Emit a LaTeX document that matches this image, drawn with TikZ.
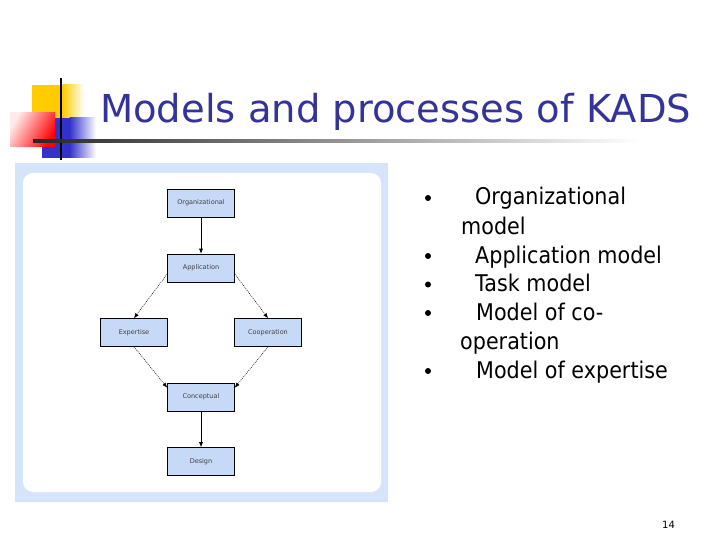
\documentclass[tikz,border=0pt]{standalone}
\usepackage{fontspec}
\setmainfont{DejaVu Sans}
\newfontfamily\titlefont[FakeStretch=0.9]{DejaVu Sans}
\usetikzlibrary{arrows.meta}
\definecolor{titleblue}{RGB}{51,51,153}
\definecolor{panelblue}{RGB}{214,228,250}
\definecolor{boxblue}{RGB}{198,217,247}
\definecolor{logoyellow}{RGB}{255,204,0}
\definecolor{logoblue}{RGB}{51,51,204}
\tikzset{
  box/.style={draw=black, line width=0.6pt, fill=boxblue, minimum width=67pt, minimum height=28pt, inner sep=0pt, font=\fontsize{6.5}{7}\selectfont, text=black!75},
  solidarr/.style={line width=0.6pt, -{Latex[length=5pt,width=4pt]}},
  dotarr/.style={line width=0.5pt, dash pattern=on 1pt off 1pt, -{Latex[length=5pt,width=4pt]}},
  bul/.style={anchor=base west, inner sep=0pt, font=\fontsize{23}{27}\titlefont},
}
\begin{document}
\begin{tikzpicture}[x=1pt,y=-1pt]
\useasboundingbox (0,0) rectangle (720,540);
\fill[white] (0,0) rectangle (720,540);
% logo
\fill[logoyellow] (32,85) rectangle (63,120);
\shade[left color=logoyellow, right color=white] (62.5,85) rectangle (84,120);
\fill[logoblue] (42,118) rectangle (70,158);
\shade[left color=logoblue, right color=white] (69.5,118) rectangle (96,158);
\shade[left color=red!8, right color=red, shading angle=60] (10,113) rectangle (55,147);
\fill[black] (60,78) rectangle (62,160);
\shade[left color=black!85, right color=white] (33,139.5) rectangle (640,142.5);
% title
\node[anchor=base west, inner sep=0pt, text=titleblue, font=\fontsize{38.5}{42}\selectfont] (title) at (100,123) {Models and processes of KADS};
% panel
\fill[panelblue] (15,163) rectangle (388,502);
\fill[white, rounded corners=10pt] (23,173) rectangle (381,492);
% boxes
\node[box] (org) at (201,203) {Organizational};
\node[box] (app) at (201,268) {Application};
\node[box] (exp) at (134,332.5) {Expertise};
\node[box] (coop) at (268,332.5) {Cooperation};
\node[box] (conc) at (201,397) {Conceptual};
\node[box] (des) at (201,461.5) {Design};
\draw[solidarr] (org) -- (app);
\draw[solidarr] (conc) -- (des);
\draw[dotarr] ([yshift=-6pt]app.west) -- (exp.north);
\draw[dotarr] ([yshift=-6pt]app.east) -- (coop.north);
\draw[dotarr] (exp.south) -- ([yshift=-5pt]conc.north west);
\draw[dotarr] (coop.south) -- ([yshift=-5pt]conc.north east);
% bullets
\foreach \yy in {198,256,284.5,313,371} \fill (428,\yy) circle (3);
\node[bul] (b1) at (475,205) {Organizational};
\node[bul] (b1b) at (461,234) {model};
\node[bul] (b2) at (475,263) {Application model};
\node[bul] (b3) at (475,291.5) {Task model};
\node[bul] (b4) at (476,320) {Model of co-};
\node[bul] (b4b) at (460,349) {operation};
\node[bul] (b5) at (476,378) {Model of expertise};
% page number
\node[anchor=base west, inner sep=0pt, font=\fontsize{10}{12}\selectfont] (pg) at (662,528) {14};
\end{tikzpicture}
\end{document}
